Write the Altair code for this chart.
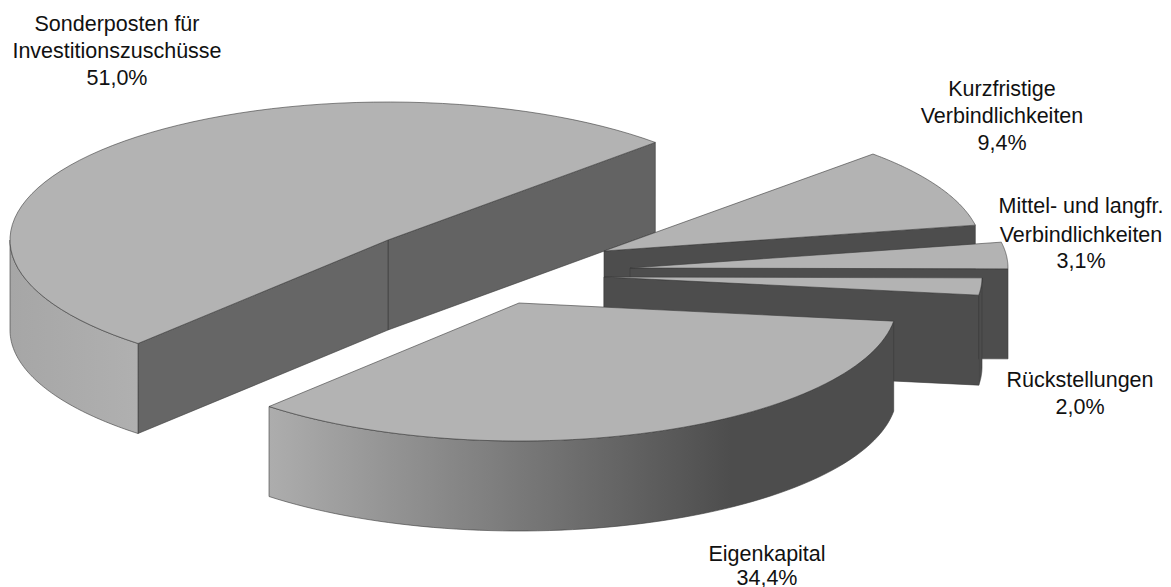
import math
import altair as alt
import pandas as pd

# Values
slice_names = ["Sonderposten für Investitionszuschüsse", "Eigenkapital", "Rückstellungen",
               "Mittel- und langfr. Verbindlichkeiten", "Kurzfristige Verbindlichkeiten"]
shares = [51.0, 34.4, 2.0, 3.1, 9.4]
start_angle = 45.0

# Pie geometry (pixel-like units of the x/y scales)
tips_x = [388, 519, 604, 630, 604]
tips_y = [240, 303, 277, 268, 251]
RX, RY, DEPTH = 378, 138, 90

label_lines = ["Sonderposten für", "Investitionszuschüsse", "51,0%",
               "Kurzfristige", "Verbindlichkeiten", "9,4%",
               "Mittel- und langfr.", "Verbindlichkeiten", "3,1%",
               "Rückstellungen", "2,0%",
               "Eigenkapital", "34,4%"]
label_x = [117, 117, 117, 1002, 1002, 1002, 1081, 1081, 1081, 1080, 1080, 767, 767]
label_y = [25, 52, 79, 90, 117, 144, 207, 236, 262, 381, 408, 555, 579]

TOP, DARK, STROKE = "#b3b3b3", "#4d4d4d", "#3a3a3a"

# angular extents from the shares
spans, a = [], start_angle
for s in shares:
    spans.append((a, a + s * 3.6))
    a += s * 3.6


def rim(i, t, dz=0):
    r = math.radians(t)
    return (tips_x[i] + RX * math.cos(r), tips_y[i] - RY * math.sin(r) + dz)


def arc(i, t0, t1, dz=0, n=70):
    return [rim(i, t0 + (t1 - t0) * k / n, dz) for k in range(n + 1)]


def tip(i, dz=0):
    return (tips_x[i], tips_y[i] + dz)


def face(points, fill):
    pts = list(points) + [points[0]]
    df = pd.DataFrame({"x": [p[0] for p in pts], "y": [p[1] for p in pts], "i": range(len(pts))})
    return alt.Chart(df).mark_line(fill=fill, stroke=STROKE, strokeWidth=0.6, interpolate="linear").encode(
        x=alt.X("x:Q", scale=X_SCALE, axis=None),
        y=alt.Y("y:Q", scale=Y_SCALE, axis=None),
        order="i:Q",
    )


def chord_wall(i, t, fill):
    return face([tip(i), rim(i, t), rim(i, t, DEPTH), tip(i, DEPTH)], fill)


def outer_wall(i, t0, t1, fill):
    return face(arc(i, t0, t1) + arc(i, t1, t0, DEPTH), fill)


def top_face(i):
    return face([tip(i)] + arc(i, *spans[i]), TOP)


X_SCALE = alt.Scale(domain=[8, 1163], nice=False, zero=False)
Y_SCALE = alt.Scale(domain=[587, 8], nice=False, zero=False)

grad_left = alt.Gradient(gradient="linear", x1=0, x2=1, y1=0, y2=0,
                         stops=[alt.GradientStop(color="#a6a6a6", offset=0),
                                alt.GradientStop(color="#b0b0b0", offset=1)])
grad_eigen = alt.Gradient(gradient="linear", x1=0, x2=1, y1=0, y2=0,
                          stops=[alt.GradientStop(color="#adadad", offset=0),
                                 alt.GradientStop(color="#4d4d4d", offset=0.74),
                                 alt.GradientStop(color="#4d4d4d", offset=1)])

SON, EIG, RUE, MIT, KUR = 0, 1, 2, 3, 4
layers = [
    # Sonderposten
    chord_wall(SON, spans[SON][0], "#636363"),
    chord_wall(SON, spans[SON][1], "#666666"),
    outer_wall(SON, 180, spans[SON][1], grad_left),
    top_face(SON),
    # Kurzfristige
    chord_wall(KUR, spans[KUR][0], DARK),
    top_face(KUR),
    # Mittel- und langfristige
    chord_wall(MIT, spans[MIT][0], DARK),
    top_face(MIT),
    # Rückstellungen
    outer_wall(RUE, *spans[RUE], DARK),
    chord_wall(RUE, spans[RUE][0], DARK),
    top_face(RUE),
    # Eigenkapital
    outer_wall(EIG, *spans[EIG], grad_eigen),
    top_face(EIG),
]

labels = pd.DataFrame({"t": label_lines, "x": label_x, "y": label_y})
text = alt.Chart(labels).mark_text(font="Liberation Sans", fontSize=21.5, color="#111111",
                                   align="center", baseline="middle").encode(
    x=alt.X("x:Q", scale=X_SCALE, axis=None),
    y=alt.Y("y:Q", scale=Y_SCALE, axis=None),
    text="t:N",
)

chart = alt.layer(*layers, text).properties(
    width=1155, height=579, padding=0, autosize=alt.AutoSizeParams(type="none")
).configure_view(stroke=None)

chart.save("out.html", embed_options={"renderer": "svg", "actions": False})
